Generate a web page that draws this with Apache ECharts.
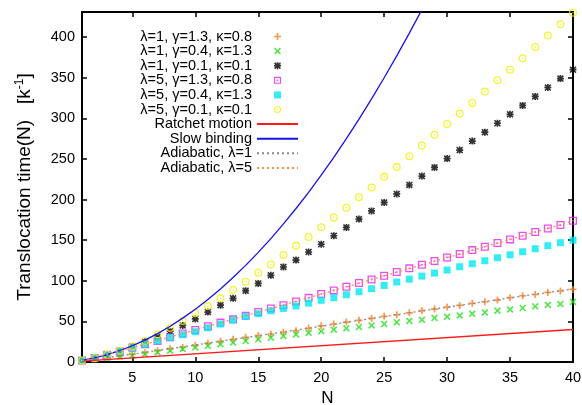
<!DOCTYPE html>
<html>
<head>
<meta charset="utf-8">
<script src="https://cdn.jsdelivr.net/npm/echarts@6/dist/echarts.min.js"></script>
<style>
  html, body { margin: 0; padding: 0; background: #fff; }
  #chart { width: 582px; height: 405px; }
</style>
</head>
<body>
<div id="chart"></div>
<script>
// N = 1..40
const nValues = [1, 2, 3, 4, 5, 6, 7, 8, 9, 10, 11, 12, 13, 14, 15, 16, 17, 18, 19, 20,
  21, 22, 23, 24, 25, 26, 27, 28, 29, 30, 31, 32, 33, 34, 35, 36, 37, 38, 39, 40]

// simulation points
const l1g13k08 = [1.5, 3.5, 5.5, 7.5, 9.5, 11.5, 14, 16.4, 18, 20.5, 23, 25.5, 27.9, 30.4, 32.5, 34.5, 36.5, 38.5, 41.5, 44.5,
  46.8, 49.2, 51.3, 53.7, 56.2, 58.2, 60.5, 63.2, 65.2, 67.7, 69.7, 72.2, 74.2, 76.3, 79.2, 81.6, 83.1, 85.7, 87.4, 89.4]
const l1g04k13 = [1.5, 3.5, 5, 6.5, 8, 10, 12, 14, 16, 18, 20, 22, 24, 26, 28, 30, 32, 34, 36, 37.8,
  39.8, 41.5, 43.1, 45.1, 46.8, 48.8, 50.5, 52, 54.2, 55.8, 57.4, 59.5, 61.1, 63.2, 64.8, 66.5, 68.5, 70.2, 71.4, 74]
const l1g01k01 = [2, 5, 9, 13, 19, 25, 31, 38, 45, 53, 61.5, 70, 78.4, 87.8, 96.8, 106.7, 117, 125.5, 135.5, 145,
  155.5, 165.7, 176, 186, 196.5, 207, 218, 229, 239.6, 250.5, 261, 272, 283, 294, 305, 316, 327, 338, 349, 360]
const l5g13k08 = [2, 5, 9, 13, 17.5, 22, 26, 30.5, 35, 39.5, 44, 48.5, 52.5, 57, 61.5, 66, 70, 74.5, 79, 83.7,
  88.2, 92.7, 97.2, 101.7, 106.2, 110.8, 115.3, 119.8, 124.3, 128.8, 132.9, 137.8, 142, 146.5, 151, 155.5, 160, 164.5, 168.6, 173.9]
const l5g04k13 = [2, 5, 9, 13, 17.5, 22, 26, 30, 33.6, 37.3, 42, 46.8, 51.7, 56, 59.5, 63, 66, 69, 72.5, 76,
  79.2, 82.8, 86.5, 90.2, 94.3, 98.5, 102, 105.8, 109.5, 113.2, 117.3, 121, 124.7, 128.4, 132, 135.8, 139.5, 143.2, 146.9, 150]
const l5g01k01 = [2, 5, 9, 14, 19, 26, 34, 42, 50.5, 60, 69, 78.4, 88.6, 98.8, 110, 120, 131.7, 143, 154, 166,
  178, 190, 203, 215, 228, 240, 253.5, 266.7, 279.8, 293, 306, 319, 333, 347, 360, 374, 388, 402, 416, 430]

// theory curves
const ratchetN = [1, 40]
const ratchetT = [1, 40]
const slowN = [1, 2, 3, 4, 5, 6, 7, 8, 9, 10, 11, 12, 13, 14, 15, 16, 17, 18, 19, 20, 21, 22, 23, 24, 25, 26, 27, 28]
const slowT = [2, 5, 9, 14, 20, 27, 35, 44, 54, 65, 77, 90, 104, 119, 135, 152, 170, 189, 209, 230,
  252, 275, 299, 324, 350, 377, 405, 434]
const adiaN = [1, 5, 10, 15, 20, 25, 30, 35, 40]
const adia1 = [1.5, 9.5, 21, 32.5, 44, 56, 67.5, 79, 90]
const adia5 = [2, 17.5, 39.5, 61.5, 83.5, 106, 128.5, 151, 173.5]

const xTicks = [5, 10, 15, 20, 25, 30, 35, 40]
const yTicks = [0, 50, 100, 150, 200, 250, 300, 350, 400]

const FONT = 'Liberation Sans, Arial, Helvetica, sans-serif'

// marker shapes (gnuplot-like)
const PLUS = 'path://M3.8,0h2.4v3.8h3.8v2.4h-3.8v3.8h-2.4v-3.8h-3.8v-2.4h3.8z'
const CROSS = 'path://M0,1.6L1.6,0L5,3.4L8.4,0L10,1.6L6.6,5L10,8.4L8.4,10L5,6.6L1.6,10L0,8.4L3.4,5Z'
const STAR = PLUS + 'M0,1.6L1.6,0L5,3.4L8.4,0L10,1.6L6.6,5L10,8.4L8.4,10L5,6.6L1.6,10L0,8.4L3.4,5Z'
const BOXDOT = 'path://M0,0h10v10h-10zM1.6,1.6v6.8h6.8v-6.8zM4,4h2v2h-2z'
const BOX = 'path://M0,0h10v10h-10z'
const CIRCDOT = 'path://M0,5A5,5,0,0,1,10,5A5,5,0,0,1,0,5ZM1.6,5A3.4,3.4,0,0,0,8.4,5A3.4,3.4,0,0,0,1.6,5ZM4,5A1,1,0,0,1,6,5A1,1,0,0,1,4,5Z'

const pairs = (xs, ys) => xs.map((x, i) => [x, ys[i]])

const scatter = (name, ys, symbol, color, size) => ({
  name: name,
  type: 'scatter',
  data: pairs(nValues, ys),
  symbol: symbol,
  symbolSize: size,
  symbolKeepAspect: true,
  itemStyle: { color: color },
  emphasis: { disabled: true }
})

const line = (name, xs, ys, color, type) => ({
  name: name,
  type: 'line',
  data: pairs(xs, ys),
  symbol: 'none',
  lineStyle: { color: color, width: 1.3, type: type },
  itemStyle: { color: color },
  emphasis: { disabled: true }
})

const lineNames = ['Ratchet motion', 'Slow binding', 'Adiabatic, λ=1', 'Adiabatic, λ=5']
const pointNames = [
  'λ=1, γ=1.3, κ=0.8', 'λ=1, γ=0.4, κ=1.3', 'λ=1, γ=0.1, κ=0.1',
  'λ=5, γ=1.3, κ=0.8', 'λ=5, γ=0.4, κ=1.3', 'λ=5, γ=0.1, κ=0.1'
]

const chart = echarts.init(document.getElementById('chart'))

chart.setOption({
  animation: false,
  backgroundColor: '#fff',
  textStyle: { fontFamily: FONT },
  grid: { left: 82, right: 9, top: 12, bottom: 43, containLabel: false, outerBoundsMode: 'none' },
  legend: {
    orient: 'vertical',
    align: 'right',
    right: 283,
    top: 29,
    padding: 0,
    itemWidth: 41,
    itemHeight: 7,
    itemGap: -0.4,
    symbolKeepAspect: true,
    textStyle: { fontFamily: FONT, fontSize: 14.5, color: '#000', lineHeight: 14 },
    data: pointNames.map(n => ({ name: n }))
      .concat(lineNames.map(n => ({ name: n, itemStyle: { opacity: 0 } })))
  },
  xAxis: [{
    type: 'value',
    min: 1,
    max: 40,
    name: 'N',
    nameLocation: 'middle',
    nameGap: 25,
    nameTextStyle: { fontSize: 17, color: '#000', fontFamily: FONT },
    axisLine: { show: true, onZero: false, lineStyle: { color: '#000', width: 2 } },
    axisTick: { inside: true, length: 5, lineStyle: { color: '#000', width: 1.5 }, customValues: xTicks },
    axisLabel: { color: '#000', fontSize: 14.5, margin: 8, customValues: xTicks },
    splitLine: { show: false }
  }, {
    type: 'value',
    position: 'top',
    min: 1,
    max: 40,
    axisLine: { show: true, onZero: false, lineStyle: { color: '#000', width: 2 } },
    axisTick: { inside: true, length: 5, lineStyle: { color: '#000', width: 1.5 }, customValues: xTicks },
    axisLabel: { show: false },
    splitLine: { show: false }
  }],
  yAxis: [{
    type: 'value',
    min: 0,
    max: 431,
    name: 'Translocation time(N)   [k{sup|-1}]',
    nameLocation: 'middle',
    nameGap: 46,
    nameTextStyle: {
      fontSize: 19, color: '#000', fontFamily: FONT,
      rich: { sup: { fontSize: 12, verticalAlign: 'bottom', padding: [0, 0, 10, 0], color: '#000', fontFamily: FONT } }
    },
    axisLine: { show: true, onZero: false, lineStyle: { color: '#000', width: 2 } },
    axisTick: { inside: true, length: 5, lineStyle: { color: '#000', width: 1.5 }, customValues: yTicks },
    axisLabel: { color: '#000', fontSize: 14.5, margin: 7, customValues: yTicks },
    splitLine: { show: false }
  }, {
    type: 'value',
    position: 'right',
    min: 0,
    max: 431,
    axisLine: { show: true, onZero: false, lineStyle: { color: '#000', width: 2 } },
    axisTick: { inside: true, length: 5, lineStyle: { color: '#000', width: 1.5 }, customValues: yTicks },
    axisLabel: { show: false },
    splitLine: { show: false }
  }],
  series: [
    scatter(pointNames[0], l1g13k08, PLUS, '#ff7a1a', 7),
    scatter(pointNames[1], l1g04k13, CROSS, '#22e01a', 7),
    scatter(pointNames[2], l1g01k01, STAR, '#000000', 7),
    scatter(pointNames[3], l5g13k08, BOXDOT, '#e81ee8', 8),
    scatter(pointNames[4], l5g04k13, BOX, '#00e8f0', 7),
    scatter(pointNames[5], l5g01k01, CIRCDOT, '#f0f000', 8),
    line(lineNames[0], ratchetN, ratchetT, '#ff1a1a', 'solid'),
    line(lineNames[1], slowN, slowT, '#1414e6', 'solid'),
    line(lineNames[2], adiaN, adia1, '#888888', [2, 3]),
    line(lineNames[3], adiaN, adia5, '#ff8c48', [2, 3])
  ]
})

window.addEventListener('resize', () => chart.resize())
</script>
</body>
</html>
